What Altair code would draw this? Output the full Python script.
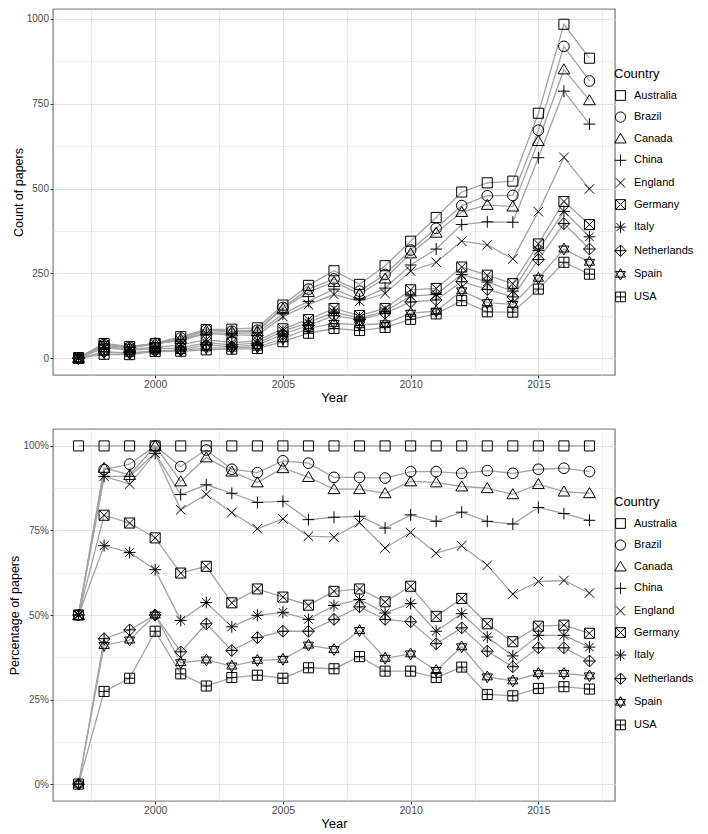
import altair as alt
import pandas as pd

years = list(range(1997, 2018))
countries = ["Australia", "Brazil", "Canada", "China", "England",
             "Germany", "Italy", "Netherlands", "Spain", "USA"]

# Count of papers per year
aus_n = [2, 44, 35, 44, 64, 85, 86, 90, 157, 215, 258, 218, 273, 345, 415, 490, 517, 522, 722, 984, 884]
bra_n = [1, 41, 33, 44, 60, 84, 80, 83, 150, 204, 234, 198, 247, 319, 383, 450, 479, 480, 672, 919, 817]
can_n = [1, 41, 32, 44, 57, 82, 79, 80, 147, 195, 225, 190, 235, 309, 370, 431, 452, 447, 640, 851, 760]
chn_n = [1, 40, 32, 43, 55, 75, 74, 75, 131, 168, 204, 173, 207, 275, 322, 394, 402, 401, 591, 787, 690]
eng_n = [1, 40, 31, 43, 52, 73, 69, 68, 123, 158, 188, 168, 191, 257, 283, 345, 334, 293, 432, 592, 499]
ger_n = [1, 35, 27, 32, 40, 55, 46, 52, 87, 114, 147, 126, 147, 202, 206, 269, 245, 220, 337, 462, 394]
ita_n = [1, 31, 24, 28, 31, 46, 40, 45, 80, 105, 136, 119, 138, 184, 188, 247, 225, 198, 318, 433, 358]
ned_n = [0, 19, 16, 22, 25, 40, 34, 39, 71, 97, 126, 114, 133, 166, 172, 226, 203, 181, 291, 397, 322]
esp_n = [0, 18, 15, 22, 23, 31, 30, 33, 58, 88, 103, 99, 102, 133, 139, 199, 164, 159, 236, 322, 283]
usa_n = [0, 12, 11, 20, 21, 25, 27, 29, 49, 74, 88, 82, 91, 115, 131, 170, 137, 136, 204, 283, 248]

# Percentage of papers per year
aus_p = [100, 100, 100, 100, 100, 100, 100, 100, 100, 100, 100, 100, 100, 100, 100, 100, 100, 100, 100, 100, 100]
bra_p = [50, 93, 94.6, 100, 93.9, 98.8, 93.1, 92.1, 95.6, 94.9, 90.7, 90.7, 90.5, 92.4, 92.4, 91.9, 92.7, 91.9, 93.1, 93.4, 92.4]
can_p = [50, 93.5, 91.4, 100, 89.5, 96.6, 92.4, 89.2, 93.4, 90.8, 87.2, 87.2, 86, 89.5, 89.2, 88, 87.5, 85.7, 88.7, 86.5, 86]
chn_p = [50, 91, 91, 97.8, 85.6, 88.5, 86, 83.3, 83.6, 78.2, 78.9, 79.2, 75.7, 79.6, 77.7, 80.4, 77.7, 76.9, 81.8, 80, 78]
eng_p = [50, 91, 88.7, 97.8, 81.1, 85.7, 80.3, 75.5, 78.4, 73.3, 73, 77.3, 69.8, 74.4, 68.3, 70.5, 64.7, 56.2, 59.9, 60.2, 56.5]
ger_p = [50, 79.5, 77.2, 72.8, 62.4, 64.4, 53.6, 57.7, 55.3, 52.9, 57, 57.7, 53.9, 58.5, 49.6, 54.9, 47.4, 42.1, 46.7, 47, 44.6]
ita_p = [50, 70.5, 68.5, 63.4, 48.4, 53.7, 46.5, 49.9, 50.8, 48.7, 52.8, 54.6, 50.6, 53.4, 45.2, 50.4, 43.5, 37.9, 44, 44, 40.5]
ned_p = [0, 43, 45.6, 50, 39.1, 47.4, 39.5, 43.3, 45.2, 45.2, 48.7, 52.4, 48.7, 48, 41.5, 46.2, 39.3, 34.7, 40.3, 40.3, 36.4]
esp_p = [0, 41, 42.6, 50, 35.9, 36.7, 34.9, 36.6, 36.9, 41.1, 39.8, 45.4, 37.2, 38.5, 33.6, 40.6, 31.7, 30.5, 32.7, 32.7, 32]
usa_p = [0, 27.4, 31.3, 45.2, 32.6, 29, 31.5, 32.2, 31.3, 34.4, 34.1, 37.7, 33.4, 33.4, 31.5, 34.6, 26.5, 26.1, 28.3, 28.8, 28.1]

counts = [aus_n, bra_n, can_n, chn_n, eng_n, ger_n, ita_n, ned_n, esp_n, usa_n]
pcts = [aus_p, bra_p, can_p, chn_p, eng_p, ger_p, ita_p, ned_p, esp_p, usa_p]

rows = []
for c, ns, ps in zip(countries, counts, pcts):
    for y, n, p in zip(years, ns, ps):
        rows.append({"Country": c, "Year": y, "Count": n, "Pct": p / 100.0})
df = pd.DataFrame(rows)

# ggplot-like open shapes (0,1,2,3,4,7,8,9,11,12)
sq = "M-0.85,-0.85H0.85V0.85H-0.85Z"
shape_paths = [
    sq,
    "M0.9,0A0.9,0.9 0 1,1 -0.9,0A0.9,0.9 0 1,1 0.9,0Z",
    "M0,-0.95L1,0.75L-1,0.75Z",
    "M-1,0H1M0,-1V1",
    "M-0.8,-0.8L0.8,0.8M-0.8,0.8L0.8,-0.8",
    sq + "M-0.85,-0.85L0.85,0.85M-0.85,0.85L0.85,-0.85",
    "M-1,0H1M0,-1V1M-0.72,-0.72L0.72,0.72M-0.72,0.72L0.72,-0.72",
    "M0,-1L1,0L0,1L-1,0ZM0,-1V1M-1,0H1",
    "M0,-1L0.87,0.5L-0.87,0.5ZM0,1L0.87,-0.5L-0.87,-0.5Z",
    sq + "M0,-0.85V0.85M-0.85,0H0.85",
]

FONT = "Liberation Sans"
xvals = [1997.5, 2000, 2002.5, 2005, 2007.5, 2010, 2012.5, 2015, 2017.5]


def make_axis(title, values, minor_test, fmt, label_test, label_size, title_size):
    return alt.Axis(
        title=title,
        values=values,
        format=fmt,
        labelExpr="(" + label_test + ") ? datum.label : ''",
        tickOpacity={"condition": {"test": minor_test, "value": 0}, "value": 1},
        gridWidth={"condition": {"test": minor_test, "value": 0.6}, "value": 1.1},
        gridColor="#e2e2e2",
        grid=True,
        domain=False,
        tickSize=3,
        tickColor="#333333",
        labelColor="#4d4d4d",
        labelFontSize=label_size,
        labelFont=FONT,
        labelPadding=1.5,
        labelOverlap=False,
        labelFlush=False,
        titleFont=FONT,
        titleFontSize=title_size,
        titleFontWeight="normal",
        titleColor="black",
        titlePadding=1,
    )


def panel(field, ytitle, ydomain, yvalues, yfmt, ytest, ylabtest, height, legend_y):
    x = alt.X(
        "Year:Q",
        scale=alt.Scale(domain=[1996, 2018], nice=False, zero=False),
        axis=make_axis("Year", xvals, "datum.value % 5 != 0", "d", "datum.value % 5 == 0", 10.5, 13),
    )
    y = alt.Y(
        field + ":Q",
        scale=alt.Scale(domain=ydomain, nice=False, zero=False),
        axis=make_axis(ytitle, yvalues, ytest, yfmt, ylabtest, 10, 12.5),
    )
    lines = alt.Chart(df).mark_line(color="#a3a3a3", strokeWidth=1.3).encode(
        x=x, y=y, detail="Country:N"
    )
    pts = alt.Chart(df).mark_point(
        filled=False, color="black", strokeWidth=1, size=140, opacity=1
    ).encode(
        x=x,
        y=y,
        shape=alt.Shape(
            "Country:N",
            scale=alt.Scale(domain=countries, range=shape_paths),
            legend=alt.Legend(
                title="Country",
                orient="none",
                legendX=561,
                legendY=legend_y,
                padding=0,
                titleFont=FONT,
                titleFontSize=13,
                titleFontWeight="normal",
                titleColor="black",
                titlePadding=8,
                labelFont=FONT,
                labelFontSize=11,
                labelColor="black",
                labelOffset=7,
                symbolSize=130,
                symbolStrokeColor="black",
                symbolStrokeWidth=1,
                symbolFillColor="transparent",
                rowPadding=6.6,
            ),
        ),
    )
    return alt.layer(lines, pts).properties(width=562, height=height)


top = panel(
    "Count", "Count of papers", [-49, 1029],
    [0, 125, 250, 375, 500, 625, 750, 875, 1000], "d",
    "datum.value % 250 != 0", "datum.value % 250 == 0", 366, 59,
)
bottom = panel(
    "Pct", "Percentage of papers", [-0.05, 1.05],
    [0, 0.125, 0.25, 0.375, 0.5, 0.625, 0.75, 0.875, 1.0], ".0%",
    "(datum.value * 1000) % 250 != 0", "(datum.value * 1000) % 250 == 0", 372, 67,
)

chart = alt.vconcat(top, bottom, spacing=23).resolve_scale(
    shape="independent"
).resolve_legend(shape="independent").properties(
    padding={"left": 0, "top": 0, "right": 0, "bottom": 0}
).configure_view(stroke="#8c8c8c", strokeWidth=1.4)

chart.save("out.html", embed_options={"renderer": "svg", "actions": False})
